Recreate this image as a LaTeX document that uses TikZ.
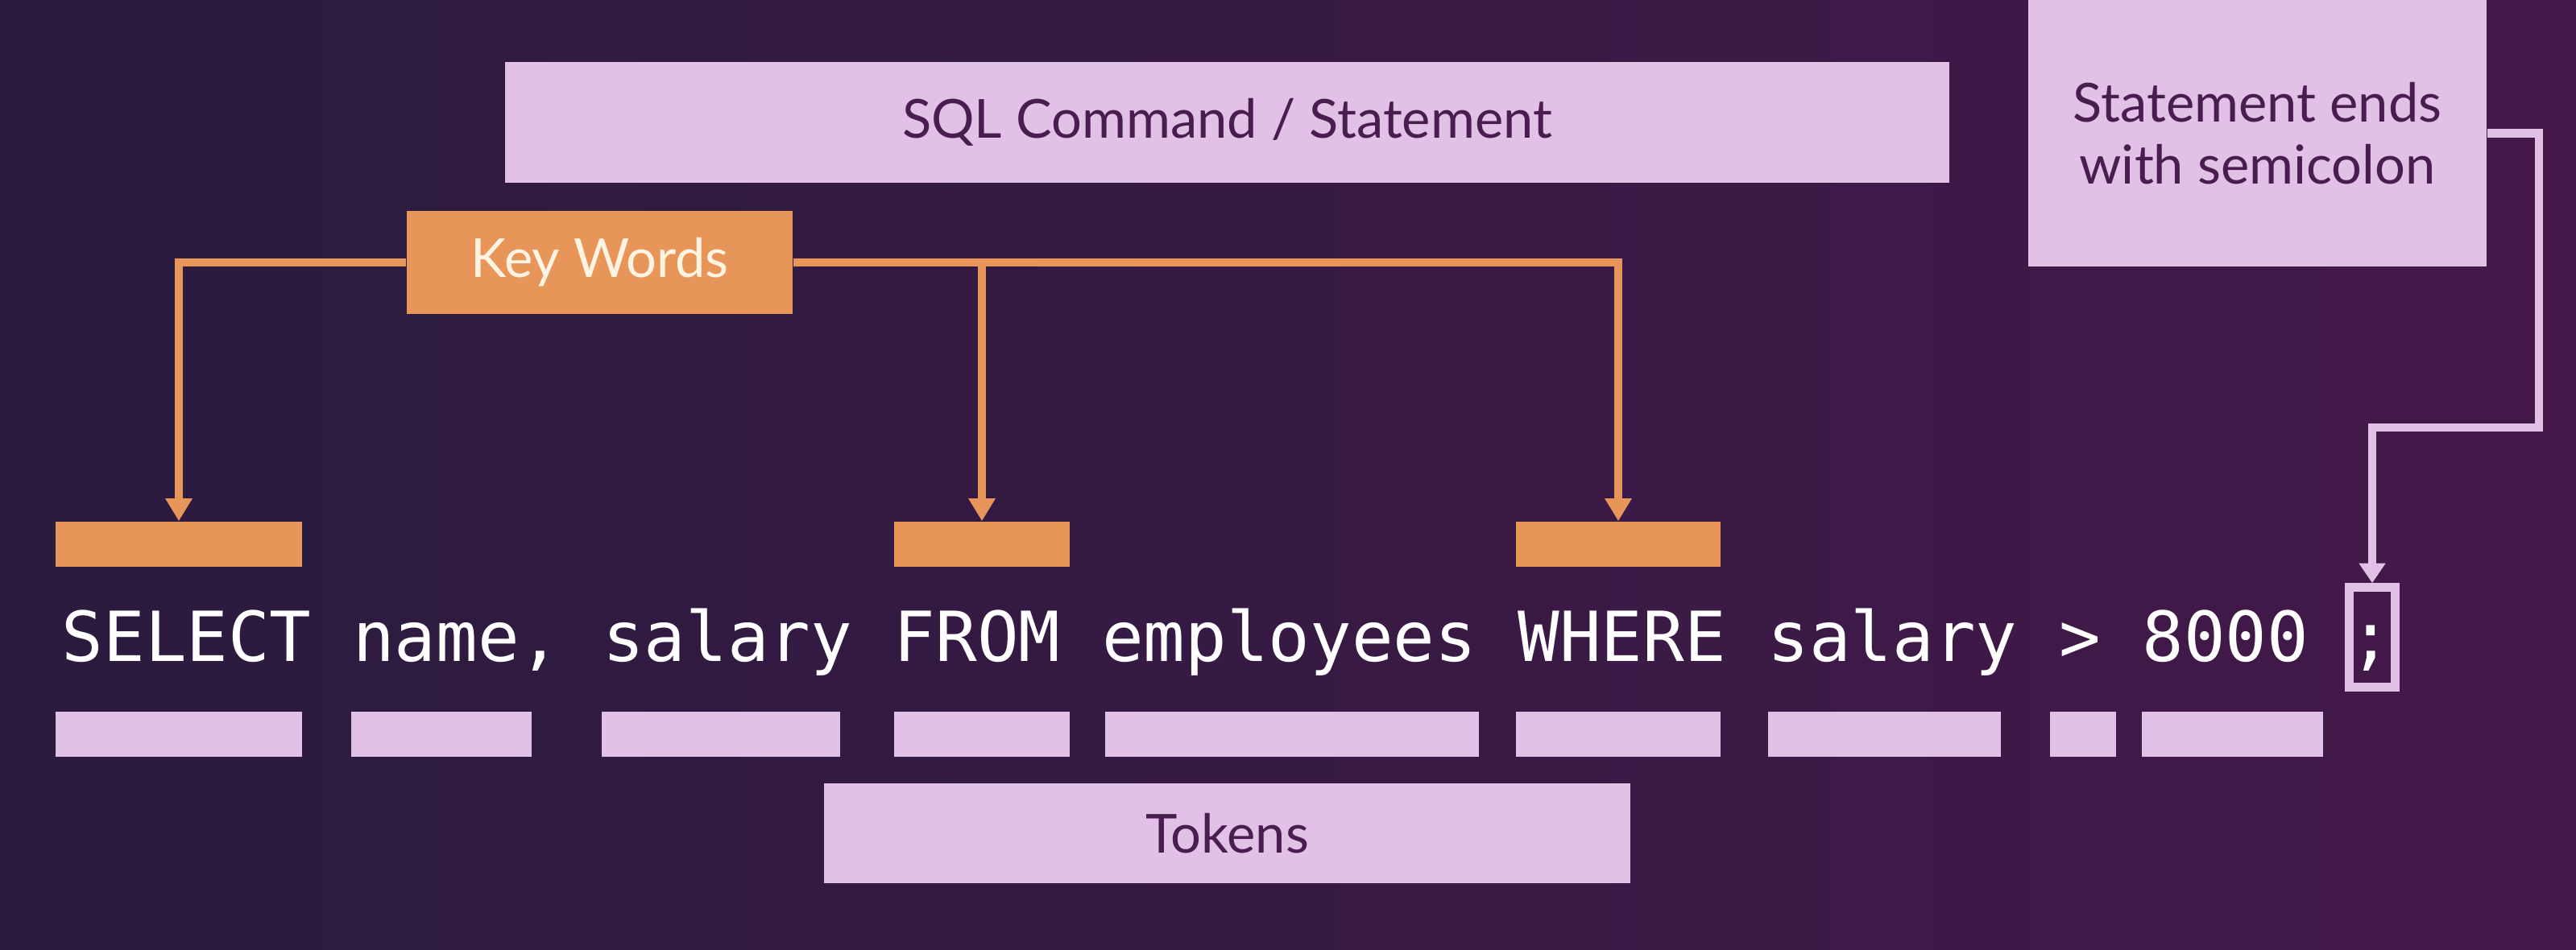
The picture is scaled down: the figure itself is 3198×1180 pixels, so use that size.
\documentclass[tikz,border=0pt]{standalone}
\usepackage{fontspec}
\setmainfont{Lato}
\setmonofont{DejaVu Sans Mono}
\usetikzlibrary{arrows.meta}
\definecolor{bgleft}{HTML}{2A1B3E}
\definecolor{bgright}{HTML}{44194A}
\definecolor{lav}{HTML}{E2C1E6}
\definecolor{org}{HTML}{E8955A}
\definecolor{ink}{HTML}{4A1D50}
\definecolor{cream}{HTML}{FFF4E2}

\begin{document}
\begin{tikzpicture}[x=0.01cm,y=-0.01cm,
		lavbox/.style={fill=lav,inner sep=0pt,text=ink,align=center,font=\fontsize{19}{22}\selectfont},
		tokbar/.style={fill=lav,inner sep=0pt,minimum height=0.56cm},
		kwbar/.style={fill=org,inner sep=0pt,minimum height=0.56cm},
		kwline/.style={draw=org,line width=2.6pt,-{Triangle[length=8pt,width=9pt]}},
		semiline/.style={draw=lav,line width=3pt,-{Triangle[length=7pt,width=9pt]}}]
		\useasboundingbox (0,0) rectangle (3198,1180);
		\shade[left color=bgleft,right color=bgright] (0,0) rectangle (3198,1180);
		\node[lavbox,minimum width=17.91cm,minimum height=1.50cm] (sql) at (1523.5,152) {SQL Command / Statement};
		\node[lavbox,minimum width=5.69cm,minimum height=3.31cm] (stmt) at (2802.5,165.5) {Statement ends\\with semicolon};
		\node[lavbox,minimum width=10.01cm,minimum height=1.24cm] (tokens) at (1523.5,1035) {Tokens};
		\node[fill=org,text=cream,inner sep=0pt,minimum width=4.79cm,minimum height=1.28cm,font=\fontsize{19}{22}\selectfont] (kw) at (744.5,326) {Key Words};
		\foreach \n/\c/\w in {sel/222/306, from/1219/218, where/2009/254}
			\node[kwbar,minimum width=\w*0.01cm] (kw\n) at (\c,676) {};
		\foreach \n/\c/\w in {sel/222/306, name/548/224, sal/895/296, from/1219/218, emp/1604/464, where/2009/254, salb/2339.5/289, gt/2586/82, num/2771.5/225}
			\node[tokbar,minimum width=\w*0.01cm] (tok\n) at (\c,912) {};
		\node[anchor=base west,inner sep=0pt,text=white,font=\fontsize{24.4}{28}\ttfamily] (code) at (76,821) {SELECT name, salary FROM employees WHERE salary > 8000 ;};
		\node[draw=lav,line width=3pt,minimum width=0.57cm,minimum height=1.24cm,inner sep=0pt] (semi) at (2945,791.5) {};
		\coordinate (bend) at (3152,531);
		\draw[kwline] (kw.west) -| (kwsel.north);
		\draw[kwline] (kw.east) -| (kwwhere.north);
		\draw[kwline] (kwfrom.north |- kw.east) -- (kwfrom.north);
		\draw[semiline] (stmt.east) -| (bend) -| (semi.north);
		\end{tikzpicture}
\end{document}
